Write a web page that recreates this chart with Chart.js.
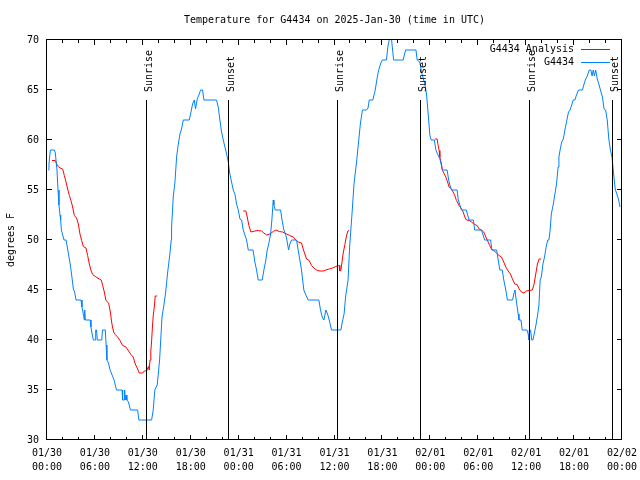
<!DOCTYPE html>
<html>
<head>
<meta charset="utf-8">
<script src="https://cdn.jsdelivr.net/npm/chart.js@4.4.1/dist/chart.umd.min.js"></script>
<style>
  body { margin: 0; background: #fff; }
</style>
</head>
<body>
<canvas id="tempChart" width="640" height="480"></canvas>
<script>
// x values are hours since 01/30 00:00 UTC
var tickDates = ['01/30', '01/30', '01/30', '01/30', '01/31', '01/31', '01/31', '01/31', '02/01', '02/01', '02/01', '02/01', '02/02'];
var tickTimes = ['00:00', '06:00', '12:00', '18:00', '00:00', '06:00', '12:00', '18:00', '00:00', '06:00', '12:00', '18:00', '00:00'];

// station observations
var obsTimes = [0.17, 0.25, 0.42, 0.92, 1.04, 1.25, 1.38, 1.5, 1.63, 1.71, 1.8, 2.13, 2.38, 2.54, 2.71, 2.92, 3.09, 3.3, 3.46, 3.63,
  4.26, 4.38, 4.55, 4.67, 4.72, 4.8, 5.42, 5.5, 5.63, 5.8, 6.05, 6.1, 6.2, 6.3, 6.85, 6.95, 7.3, 7.4, 7.5, 7.7,
  7.9, 8.1, 8.4, 8.7, 9.4, 9.47, 9.65, 9.72, 9.8, 9.9, 10.0, 10.2, 10.45, 11.35, 11.5, 13.1, 13.3, 13.5, 13.8, 14.1,
  14.4, 14.6, 14.85, 15.1, 15.4, 15.55, 15.6, 15.81, 16.02, 16.23, 16.44, 16.65, 16.85, 17.06, 17.81, 17.98, 18.23, 18.44, 18.6, 18.81,
  19.02, 19.23, 19.48, 19.65, 21.23, 21.44, 21.65, 21.86, 22.07, 22.28, 22.49, 22.7, 22.9, 23.11, 23.32, 23.53, 23.74, 23.95, 24.16, 24.37,
  24.57, 24.78, 24.99, 25.2, 25.8, 26.03, 26.24, 26.45, 26.95, 27.16, 27.41, 27.57, 27.74, 28.0, 28.16, 28.33, 28.41, 28.58, 29.25, 29.41,
  29.66, 29.91, 30.08, 30.25, 30.41, 30.62, 31.25, 31.45, 31.66, 31.87, 32.16, 32.41, 32.71, 34.04, 34.25, 34.46, 34.67, 34.92, 35.13, 35.34,
  35.63, 36.8, 37.0, 37.2, 37.4, 37.7, 37.9, 38.2, 38.45, 38.75, 39.0, 39.25, 39.5, 40.0, 40.2, 40.35, 40.8, 41.1, 41.3, 41.5,
  41.8, 42.0, 42.5, 42.7, 42.85, 42.95, 43.05, 43.15, 43.4, 44.6, 44.9, 46.2, 46.35, 46.68, 46.89, 47.31, 47.52, 47.73, 47.94, 48.1,
  48.5, 48.7, 48.9, 49.2, 49.35, 49.5, 50.1, 50.3, 50.45, 50.65, 51.35, 51.5, 51.9, 52.5, 52.85, 53.4, 53.55, 54.4, 54.8, 55.55,
  55.7, 56.3, 56.5, 56.7, 57.0, 57.2, 57.45, 57.65, 58.3, 58.45, 58.6, 58.75, 59.0, 59.1, 59.35, 59.5, 60.1, 60.25, 60.35, 60.4,
  60.55, 60.7, 60.85, 61.0, 61.25, 61.45, 61.6, 61.75, 61.9, 62.1, 62.3, 62.5, 62.7, 62.85, 63.0, 63.15, 63.4, 63.6, 63.8, 64.0,
  64.1, 64.25, 64.45, 64.65, 64.85, 65.1, 65.3, 65.5, 65.7, 65.9, 66.1, 66.3, 66.55, 67.05, 67.25, 67.45, 67.65, 67.9, 68.1, 68.25,
  68.4, 68.55, 68.7, 68.9, 69.1, 69.3, 69.55, 69.75, 69.95, 70.15, 70.35, 70.55, 70.75, 70.95, 71.15, 71.35, 71.55, 71.75];
var obsTemps = [57, 57.6, 59, 59, 58.7, 57, 55, 53.5, 52.5, 52, 51, 50, 50, 49.3, 48.5, 47.5, 46.5, 45.1, 44.8, 44,
  44, 43.3, 42.6, 42, 43, 42, 42, 41.3, 40.7, 40, 40, 41, 41, 40, 40, 41, 41, 39.5, 38, 37.7,
  37, 36.6, 36, 35, 35, 34, 34, 35, 34, 34.5, 34, 33.8, 33, 33, 32, 32, 33, 35, 35.5, 38,
  42.3, 43.3, 44.7, 46.7, 48.7, 50, 51.3, 54.3, 55.8, 58.3, 59.6, 60.6, 61.1, 62, 62, 62.6, 63.6, 64, 63.1, 64.1,
  64.5, 65, 65, 64, 64, 63.3, 62, 60.8, 60, 59.3, 58.6, 57.8, 56.6, 55.8, 55, 54.6, 53.6, 53, 52.1, 52,
  51, 50.5, 50, 49, 49, 47.8, 47, 46, 46, 47, 48, 49, 49.5, 50.6, 52, 54, 53.5, 53, 53, 52.1,
  51, 50.5, 49.8, 49, 49.6, 50, 50, 49, 48, 47, 45, 44.5, 44, 44, 43, 42.3, 42, 43, 42.6, 42,
  41, 41, 41.9, 42.6, 44.4, 46, 49.4, 52.7, 55.7, 57.7, 59.7, 61.7, 63, 63, 63.2, 64, 64, 65, 66, 66.9,
  67.7, 68, 68, 69.4, 70, 71, 71, 70, 68, 68, 69, 69, 68, 67.8, 66.8, 65.6, 64.6, 62.6, 60.5, 60,
  60, 59, 58.6, 58.1, 57.6, 57, 57, 56, 55.5, 55, 55, 54, 53, 53, 52, 52, 51, 51, 50, 50,
  49, 49, 48, 47, 47, 46, 45, 44, 44, 44.6, 45, 44, 42.6, 42, 42, 41, 41, 40.6, 40, 41,
  41, 40, 40, 40.6, 41.6, 42.6, 43.5, 46, 46.3, 47.6, 48.3, 49.3, 50, 50, 51, 52.6, 53.6, 54.6, 55.6, 57.3,
  58.3, 59, 59.8, 60.1, 61, 62, 62.8, 63, 63.5, 64, 64, 64.5, 65, 65, 65.6, 66.1, 66.4, 67, 67, 66.4,
  67, 66.4, 67, 66.1, 65.6, 65, 64.3, 63.1, 63, 62, 60.1, 59, 58.3, 56.6, 55.1, 54.6, 54.1, 53.3];

// analysis, null marks a gap between runs
var anaTimes = [0.63, 1.04, 1.21, 1.42, 1.63, 1.96, 2.17, 2.38, 2.59, 2.8, 3.0, 3.21, 3.42, 3.71, 3.92, 4.13, 4.34, 4.55, 4.88, 5.09,
  5.3, 5.51, 5.72, 6.13, 6.55, 6.8, 6.97, 7.18, 7.38, 7.72, 7.93, 8.13, 8.34, 8.55, 8.84, 9.14, 9.47, 9.89, 10.22, 10.51,
  10.8, 11.05, 11.35, 11.55, 11.97, 12.18, 12.5, 12.7, 12.8, 12.9, 13.0, 13.1, 13.2, 13.3, 13.45, 13.55, 13.8, 14,
  24.57, 24.9, 25.07, 25.28, 25.53, 26.03, 26.45, 26.87, 27.16, 27.49, 27.91, 28.33, 28.66, 29.08, 29.5, 30.0, 30.41, 30.83, 31.16, 31.46,
  31.87, 32.08, 32.29, 32.5, 32.83, 33.12, 33.42, 33.75, 34.17, 34.59, 34.92, 35.34, 35.75, 36.17, 36.5, 36.6, 36.67, 36.8, 36.92, 37.09,
  37.3, 37.5, 37.67, 37.84, 40,
  48.56, 48.85, 48.98, 49.1, 49.19, 49.39, 49.52, 49.69, 49.94, 50.1, 50.35, 50.64, 50.85, 51.06, 51.27, 51.61, 51.9, 52.11, 52.32, 52.52,
  52.86, 53.15, 53.57, 53.86, 54.11, 54.4, 54.69, 54.95, 55.24, 55.44, 55.65, 55.95, 56.28, 56.61, 56.9, 57.19, 57.45, 57.74, 58.03, 58.28,
  58.57, 58.87, 59.12, 59.41, 59.7, 60.03, 60.37, 60.78, 60.99, 61.2, 61.41, 61.62, 61.87];
var anaTemps = [57.95, 57.95, 57.6, 57.35, 57.2, 57.1, 56.45, 55.8, 55.1, 54.45, 53.95, 53.3, 52.45, 52.2, 51.6, 50.6, 49.95, 49.35, 49.2, 48.45,
  47.6, 46.95, 46.55, 46.3, 46.1, 46.0, 45.45, 44.8, 43.95, 43.7, 42.8, 41.6, 40.8, 40.55, 40.3, 39.95, 39.45, 39.3, 38.9, 38.55,
  38.3, 37.6, 37.1, 36.7, 36.7, 36.9, 36.95, 37.35, 37.0, 38.0, 38.9, 39.9, 41.3, 42.4, 43.4, 44.4, 44.4, null,
  52.9, 52.9, 52.3, 51.45, 50.8, 50.9, 50.95, 50.9, 50.7, 50.5, 50.6, 50.85, 51.0, 50.85, 50.8, 50.6, 50.45, 50.3, 50.0, 49.8,
  49.7, 49.1, 48.6, 48.1, 47.95, 47.45, 47.2, 47.0, 46.9, 46.9, 47.0, 47.1, 47.2, 47.35, 47.45, 47.45, 46.9, 46.95, 47.7, 48.7,
  49.55, 50.4, 50.9, 50.95, null,
  60.1, 60.1, 59.45, 58.95, 58.3, 57.6, 56.95, 56.7, 56.3, 55.95, 55.3, 55.1, 54.8, 54.45, 53.95, 53.45, 53.1, 52.8, 52.3, 52.0,
  51.95, 51.8, 51.55, 51.45, 51.1, 51.0, 50.8, 50.3, 49.8, 49.45, 49.1, 48.95, 48.7, 48.45, 48.3, 47.8, 47.3, 46.9, 46.6, 46.1,
  45.6, 45.55, 45.1, 44.8, 44.7, 44.9, 44.95, 45.0, 45.6, 46.6, 47.6, 48.1, 48.1];

var sunriseTimes = [12.43, 36.33, 60.36];
var sunsetTimes = [22.69, 46.72, 70.8];
var sunLineTop = 64;

function toPoints(xs, ys) {
  var pts = [];
  for (var i = 0; i < xs.length; i++) pts.push({ x: xs[i], y: ys[i] });
  return pts;
}

Chart.defaults.font.family = "'DejaVu Sans Mono', monospace";
Chart.defaults.font.size = 10;
Chart.defaults.color = '#000';

// frame, inward ticks, sun lines and legend in the gnuplot manner
var gnuplotBits = {
  id: 'gnuplotBits',
  afterDatasetsDraw: function(chart) {
    var ctx = chart.ctx, a = chart.chartArea;
    var xs = chart.scales.x, ys = chart.scales.y;
    ctx.save();
    ctx.strokeStyle = '#000';
    ctx.fillStyle = '#000';
    ctx.lineWidth = 1;

    // sunrise / sunset markers
    var yTop = ys.getPixelForValue(sunLineTop);
    function sunLine(t, label) {
      var px = Math.floor(xs.getPixelForValue(t)) + 0.5;
      ctx.beginPath();
      ctx.moveTo(px, a.bottom);
      ctx.lineTo(px, yTop);
      ctx.stroke();
      ctx.save();
      ctx.translate(px + 5.5, yTop - 8);
      ctx.rotate(-Math.PI / 2);
      ctx.textAlign = 'left';
      ctx.textBaseline = 'alphabetic';
      ctx.fillText(label, 0, 0);
      ctx.restore();
    }
    sunriseTimes.forEach(function(t) { sunLine(t, 'Sunrise'); });
    sunsetTimes.forEach(function(t) { sunLine(t, 'Sunset'); });

    // box
    ctx.strokeRect(a.left - 0.5, a.top - 0.5, a.right - a.left, a.bottom - a.top);

    // ticks on all four sides, pointing in
    ctx.beginPath();
    for (var h = 0; h <= 72; h += 2) {
      var len = (h % 6 === 0) ? 5 : 3;
      var x = Math.round(xs.getPixelForValue(h)) - 0.5;
      ctx.moveTo(x, a.bottom); ctx.lineTo(x, a.bottom - len);
      ctx.moveTo(x, a.top); ctx.lineTo(x, a.top + len);
    }
    for (var v = 30; v <= 70; v += 5) {
      var y = Math.round(ys.getPixelForValue(v)) - 0.5;
      ctx.moveTo(a.left, y); ctx.lineTo(a.left + 5, y);
      ctx.moveTo(a.right, y); ctx.lineTo(a.right - 5, y);
    }
    ctx.stroke();

    // legend, top right inside the plot
    var rows = [chart.data.datasets[0], chart.data.datasets[1]];
    ctx.textAlign = 'right';
    ctx.textBaseline = 'middle';
    rows.forEach(function(ds, i) {
      var ly = 49.5 + i * 13;
      ctx.fillStyle = '#000';
      ctx.fillText(ds.label, 574, ly);
      ctx.strokeStyle = ds.borderColor;
      ctx.beginPath();
      ctx.moveTo(581, ly);
      ctx.lineTo(610, ly);
      ctx.stroke();
    });
    ctx.restore();
  }
};

new Chart(document.getElementById('tempChart'), {
  type: 'line',
  data: {
    datasets: [{
      label: 'G4434 Analysis',
      data: toPoints(anaTimes, anaTemps),
      borderColor: '#ff0000',
      borderWidth: 1,
      pointRadius: 0,
      tension: 0,
      spanGaps: false,
      order: 1
    }, {
      label: 'G4434',
      data: toPoints(obsTimes, obsTemps),
      borderColor: '#0080ff',
      borderWidth: 1,
      pointRadius: 0,
      tension: 0,
      order: 0
    }]
  },
  options: {
    responsive: false,
    animation: false,
    layout: { padding: { left: 0, right: 18, top: 0, bottom: 0 } },
    plugins: {
      legend: { display: false },
      tooltip: { enabled: false },
      title: {
        display: true,
        text: 'Temperature for G4434 on 2025-Jan-30 (time in UTC)',
        fullSize: false,
        font: { size: 10, weight: 'normal' },
        padding: { top: 14, bottom: 14 }
      }
    },
    scales: {
      x: {
        type: 'linear',
        min: 0,
        max: 72,
        grid: { display: false, drawTicks: false },
        border: { display: false },
        ticks: {
          stepSize: 6,
          autoSkip: false,
          maxRotation: 0,
          padding: 6,
          font: { lineHeight: 1.4 },
          callback: function(v) {
            var i = v / 6;
            return [tickDates[i], tickTimes[i]];
          }
        },
        afterFit: function(scale) {
          scale.height = 40;
          scale.paddingLeft = 0;
          scale.paddingRight = 0;
        }
      },
      y: {
        min: 30,
        max: 70,
        grid: { display: false, drawTicks: false },
        border: { display: false },
        ticks: { stepSize: 5, padding: 8 },
        title: { display: true, text: 'degrees F', padding: { top: 5, bottom: 4 } },
        afterFit: function(scale) {
          scale.width = 47;
          scale.paddingTop = 0;
          scale.paddingBottom = 0;
        }
      }
    }
  },
  plugins: [gnuplotBits]
});
</script>
</body>
</html>
